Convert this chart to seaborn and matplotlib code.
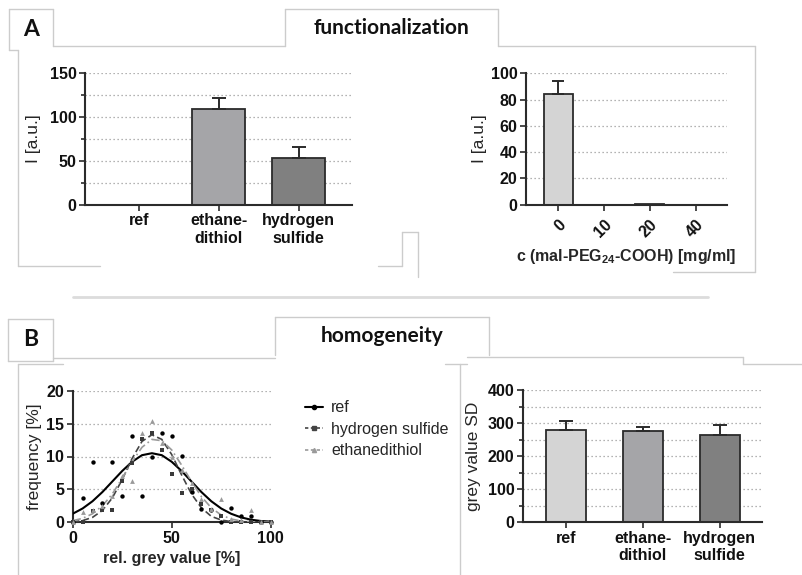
import matplotlib
matplotlib.use("Agg")
import matplotlib.pyplot as plt
from matplotlib.lines import Line2D
from matplotlib.ticker import MultipleLocator
import pandas as pd
import seaborn as sns

# --- data ---
func_labels = ["ref", "ethane-\ndithiol", "hydrogen\nsulfide"]
func_mean = [0, 109, 53.5]
func_err = [0, 12, 12.5]

peg_labels = ["0", "10", "20", "40"]
peg_mean = [84.5, 0, 0.5, 0]
peg_err = [10, 0, 0, 0]

grey_x = [0, 5, 10, 15, 20, 25, 30, 35, 40, 45, 50, 55, 60, 65, 70, 75, 80, 85, 90, 95, 100]
ref_pts = [0, 3.7, 9.1, 3.0, 9.1, 4.0, 13.1, 4.0, 10.0, 13.6, 13.1, 10.1, 4.6, 2.0, 1.9, 0.0, 2.1, 1.0, 1.0, 0, 0]
h2s_pts = [0, 0, 1.7, 1.8, 1.8, 6.3, 9.0, 12.6, 13.5, 11.0, 7.3, 4.5, 5.0, 2.8, 1.8, 0.9, 0, 0, 0, 0, 0]
edt_pts = [0, 1.5, 1.8, 2.5, 4.0, 7.0, 6.3, 13.6, 15.4, 12.0, 10.0, 8.0, 6.0, 3.5, 2.0, 3.6, 0.5, 0.3, 1.8, 0, 0]
ref_fit = [1.3, 2.1, 3.2, 4.6, 6.2, 7.8, 9.2, 10.2, 10.5, 10.2, 9.2, 7.8, 6.2, 4.6, 3.2, 2.1, 1.3, 0.75, 0.4, 0.2, 0.1]
h2s_fit = [0.08, 0.26, 0.75, 1.8, 3.7, 6.5, 9.7, 12.3, 13.3, 12.6, 10.3, 7.2, 4.3, 2.2, 0.9, 0.35, 0.1, 0.03, 0, 0, 0]
edt_fit = [0.25, 0.6, 1.3, 2.5, 4.3, 6.7, 9.2, 11.4, 12.6, 12.4, 11.0, 8.7, 6.2, 3.9, 2.2, 1.1, 0.5, 0.2, 0.08, 0.03, 0.01]

sd_labels = ["ref", "ethane-\ndithiol", "hydrogen\nsulfide"]
sd_mean = [279, 275, 263]
sd_err = [28, 14, 30]

greys = ["#d4d4d4", "#a4a4a8", "#808080"]

W, H = 802, 575
INK = "#2b2b2b"
FRAME = "#cccccc"
TICK_FS = 11.5
YLAB_FS = 12.5
XLAB_FS = 11.5

sns.set_theme(style="white")
plt.rcParams["font.family"] = ["Liberation Sans", "DejaVu Sans"]
plt.rcParams["font.weight"] = "bold"
plt.rcParams["mathtext.fontset"] = "custom"
plt.rcParams["mathtext.rm"] = "Liberation Sans:bold"
plt.rcParams["mathtext.bf"] = "Liberation Sans:bold"


def px_box(l, t, r, b):
    return [l / W, 1 - b / H, (r - l) / W, (b - t) / H]


def style_axes(ax):
    sns.despine(ax=ax)
    for s in ("left", "bottom"):
        ax.spines[s].set_color(INK)
        ax.spines[s].set_linewidth(1.5)
    ax.tick_params(which="both", direction="out", color=INK, width=1.2,
                   labelsize=TICK_FS, labelcolor="#111", left=True, bottom=True)
    ax.tick_params(which="major", length=4, pad=2)
    ax.tick_params(which="minor", length=3)
    ax.yaxis.grid(True, which="both", linestyle=(0, (1, 2.2)), color="#9a9a9a", lw=0.9)
    ax.set_axisbelow(True)


def bar_panel(ax, labels, means, errs, width):
    df = pd.DataFrame({"cat": labels, "val": means})
    sns.barplot(data=df, x="cat", y="val", hue="cat", palette=greys, legend=False,
                width=width, edgecolor=INK, linewidth=1.3, ax=ax, zorder=2)
    for i, (m, e) in enumerate(zip(means, errs)):
        if e > 0:
            ax.errorbar(i, m, yerr=[[0], [e]], color=INK, capsize=5,
                        elinewidth=1.4, capthick=1.4, zorder=3)
    ax.set_xlabel("")


fig = plt.figure(figsize=(W / 100, H / 100), dpi=100)

# --- A left: functionalization ---
ax1 = fig.add_axes(px_box(85, 72.7, 352, 205))
bar_panel(ax1, func_labels, func_mean, func_err, 0.66)
ax1.set_ylim(0, 150)
ax1.set_xlim(-0.67, 2.665)
ax1.yaxis.set_major_locator(MultipleLocator(50))
ax1.yaxis.set_minor_locator(MultipleLocator(25))
style_axes(ax1)
ax1.set_ylabel("I [a.u.]", fontsize=YLAB_FS, fontweight="normal", labelpad=6)

# --- A right: PEG concentration ---
ax2 = fig.add_axes(px_box(526, 73.3, 726.7, 204.7))
df2 = pd.DataFrame({"cat": peg_labels, "val": peg_mean})
sns.barplot(data=df2, x="cat", y="val", color=greys[0], width=0.63,
            edgecolor=INK, linewidth=1.3, ax=ax2, zorder=2)
for i, (m, e) in enumerate(zip(peg_mean, peg_err)):
    if e > 0:
        ax2.errorbar(i, m, yerr=[[0], [e]], color=INK, capsize=4,
                     elinewidth=1.4, capthick=1.4, zorder=3)
ax2.set_ylim(0, 100)
ax2.set_xlim(-0.705, 3.677)
ax2.yaxis.set_major_locator(MultipleLocator(20))
style_axes(ax2)
ax2.tick_params(axis="x", pad=5)
plt.setp(ax2.get_xticklabels(), rotation=45, ha="right", rotation_mode="anchor")
ax2.set_ylabel("I [a.u.]", fontsize=YLAB_FS, fontweight="normal", labelpad=3)
ax2.set_xlabel(r"c (mal-PEG$_{\mathbf{24}}$-COOH) [mg/ml]", fontsize=XLAB_FS,
               fontweight="bold", labelpad=5)

# --- B left: grey value distributions ---
ax3 = fig.add_axes(px_box(72.7, 390.7, 270.7, 522.3))
sns.lineplot(x=grey_x, y=ref_fit, ax=ax3, color="black", lw=1.5, zorder=3)
sns.lineplot(x=grey_x, y=h2s_fit, ax=ax3, color="#444444", lw=1.2, linestyle=(0, (4, 2)), zorder=3)
sns.lineplot(x=grey_x, y=edt_fit, ax=ax3, color="#9a9a9a", lw=1.2, linestyle=(0, (5, 2, 1, 2)), zorder=3)
sns.scatterplot(x=grey_x, y=ref_pts, ax=ax3, color="black", marker="o", s=10, linewidth=0, zorder=4, clip_on=False)
sns.scatterplot(x=grey_x, y=h2s_pts, ax=ax3, color="#3a3a3a", marker="s", s=9, linewidth=0, zorder=4, clip_on=False)
sns.scatterplot(x=grey_x, y=edt_pts, ax=ax3, color="#9a9a9a", marker="^", s=12, linewidth=0, zorder=4, clip_on=False)
ax3.set_xlim(0, 100)
ax3.set_ylim(0, 20)
ax3.xaxis.set_major_locator(MultipleLocator(50))
ax3.yaxis.set_major_locator(MultipleLocator(5))
style_axes(ax3)
ax3.set_ylabel("frequency [%]", fontsize=YLAB_FS, fontweight="normal", labelpad=3)
ax3.set_xlabel("rel. grey value [%]", fontsize=XLAB_FS, fontweight="bold", labelpad=4)

handles = [
    Line2D([], [], color="black", lw=1.5, marker="o", ms=3),
    Line2D([], [], color="#444444", lw=1.2, linestyle=(0, (2, 1.5)), marker="s", ms=3),
    Line2D([], [], color="#9a9a9a", lw=1.2, linestyle=(0, (2, 1.5)), marker="^", ms=3),
]
fig.legend(handles, ["ref", "hydrogen sulfide", "ethanedithiol"], loc="upper left",
           bbox_to_anchor=(299 / W, 1 - 394 / H), frameon=False, borderaxespad=0,
           handlelength=1.1, handletextpad=0.5, labelspacing=0.4,
           prop={"family": "Liberation Sans", "weight": "normal", "size": 11.5})

# --- B right: grey value SD ---
ax4 = fig.add_axes(px_box(522.7, 390, 761.7, 522.3))
bar_panel(ax4, sd_labels, sd_mean, sd_err, 0.52)
ax4.set_ylim(0, 400)
ax4.set_xlim(-0.56, 2.545)
ax4.yaxis.set_major_locator(MultipleLocator(100))
ax4.yaxis.set_minor_locator(MultipleLocator(50))
style_axes(ax4)
ax4.set_ylabel("grey value SD", fontsize=YLAB_FS, fontweight="normal", labelpad=5)

# --- decorative frames (pixel coords, y downwards) ---
frame_segments = [
    # panel A
    ((9.3, 9.3), (53.3, 9.3)), ((9.3, 9.3), (9.3, 50)), ((53.3, 9.3), (53.3, 46)),
    ((53.3, 46), (285, 46)), ((9.3, 50), (18.3, 50)), ((18.3, 50), (18.3, 265.6)),
    ((18.3, 265.6), (100, 265.6)), ((378, 265.6), (401.7, 265.6)),
    ((401.7, 265.6), (401.7, 231.7)), ((401.7, 231.7), (418, 231.7)), ((418, 231.7), (418, 276.7)),
    ((285, 9.3), (497.7, 9.3)), ((285, 9.3), (285, 46)), ((497.7, 9.3), (497.7, 46)),
    ((497.7, 46), (755, 46)), ((755, 46), (755, 272)), ((673, 272), (755, 272)),
    # panel B
    ((8.3, 319.3), (53.3, 319.3)), ((8.3, 319.3), (8.3, 361)), ((53.3, 319.3), (53.3, 361)),
    ((8.3, 361), (53.3, 361)), ((53.3, 357.7), (275, 357.7)),
    ((18.3, 364.3), (63, 364.3)), ((18.3, 364.3), (18.3, 575)),
    ((275, 317), (489, 317)), ((275, 317), (275, 355)), ((489, 317), (489, 355)),
    ((466.7, 356.7), (743.3, 356.7)), ((743.3, 356.7), (743.3, 364)), ((743.3, 364), (802, 364)),
    ((445, 364), (466.7, 364)), ((460, 364), (460, 575)),
]
for (x1, y1), (x2, y2) in frame_segments:
    fig.add_artist(Line2D([x1 / W, x2 / W], [1 - y1 / H, 1 - y2 / H],
                          transform=fig.transFigure, color=FRAME, lw=1))
fig.add_artist(Line2D([73 / W, 708 / W], [1 - 297 / H, 1 - 297 / H],
                      transform=fig.transFigure, color="#dcdcdc", lw=2))

head = dict(family=["Lato", "DejaVu Sans"], fontweight="bold", color="#111",
            ha="center", va="center")
fig.text(31 / W, 1 - 30 / H, "A", fontsize=16.5, **head)
fig.text(391 / W, 1 - 28 / H, "functionalization", fontsize=15, **head)
fig.text(31 / W, 1 - 340 / H, "B", fontsize=16.5, **head)
fig.text(382 / W, 1 - 336 / H, "homogeneity", fontsize=15, **head)

fig.savefig("out.png", dpi=100, facecolor="white")
